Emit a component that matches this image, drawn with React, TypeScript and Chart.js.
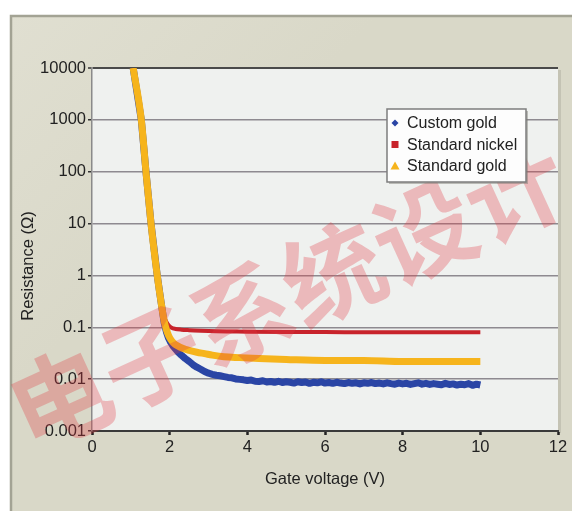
import React, { useEffect, useRef } from "react";
import { Chart, registerables } from "chart.js";

Chart.register(...registerables);

// ---------- data ----------
const legendLabels = ["Custom gold", "Standard nickel", "Standard gold"];
const xTicks = [0, 2, 4, 6, 8, 10, 12];
const yTickValues = [0.001, 0.01, 0.1, 1, 10, 100, 1000, 10000];
const yTickLabels = ["0.001", "0.01", "0.1", "1", "10", "100", "1000", "10000"];
const xTitle = "Gate voltage (V)";
const yTitle = "Resistance (\u03A9)";
const watermark = "电子系统设计";

const goldX = [1.06, 1.27, 1.39, 1.52, 1.68, 1.78, 1.86, 1.92, 1.97, 2.03, 2.1, 2.2, 2.35, 2.5, 2.7, 2.9, 3.1, 3.4, 3.8, 4.3, 5, 6, 7, 8, 9, 10];
const goldY = [10000, 1000, 100, 10, 1, 0.3, 0.13, 0.088, 0.07, 0.058, 0.05, 0.044, 0.039, 0.036, 0.033, 0.031, 0.029, 0.027, 0.026, 0.025, 0.024, 0.023, 0.023, 0.022, 0.022, 0.022];

const nickelX = [1.06, 1.27, 1.39, 1.52, 1.68, 1.78, 1.86, 1.92, 1.98, 2.05, 2.15, 2.3, 2.5, 2.8, 3.2, 3.6, 4, 5, 6, 7, 8, 9, 10];
const nickelY = [10000, 1000, 100, 10, 1, 0.3, 0.16, 0.125, 0.108, 0.098, 0.093, 0.09, 0.088, 0.086, 0.084, 0.083, 0.082, 0.081, 0.081, 0.08, 0.08, 0.08, 0.08];

const customX = [
  1.06, 1.27, 1.39, 1.52, 1.68, 1.78, 1.86, 1.92, 1.97, 2.02, 2.08, 2.15, 2.22, 2.3, 2.4, 2.5, 2.6, 2.7, 2.8, 2.9, 3.0,
  3.1, 3.2, 3.3, 3.4, 3.5, 3.6, 3.7, 3.8, 3.9, 4.0,
  4.1, 4.2, 4.3, 4.4, 4.5, 4.6, 4.7, 4.8, 4.9, 5.0,
  5.1, 5.2, 5.3, 5.4, 5.5, 5.6, 5.7, 5.8, 5.9, 6.0,
  6.1, 6.2, 6.3, 6.4, 6.5, 6.6, 6.7, 6.8, 6.9, 7.0,
  7.1, 7.2, 7.3, 7.4, 7.5, 7.6, 7.7, 7.8, 7.9, 8.0,
  8.1, 8.2, 8.3, 8.4, 8.5, 8.6, 8.7, 8.8, 8.9, 9.0,
  9.1, 9.2, 9.3, 9.4, 9.5, 9.6, 9.7, 9.8, 9.9, 10.0,
];
const customY = [
  10000, 1000, 100, 10, 1, 0.3, 0.12, 0.08, 0.062, 0.052, 0.044, 0.038, 0.033, 0.029, 0.025, 0.022, 0.019, 0.017, 0.0155, 0.014, 0.013,
  0.0124, 0.0119, 0.0116, 0.0112, 0.0108, 0.0106, 0.0101, 0.0099, 0.0097, 0.0094,
  0.0096, 0.0091, 0.009, 0.0093, 0.0088, 0.009, 0.0087, 0.0091, 0.0086, 0.0089,
  0.0087, 0.0084, 0.0089, 0.0086, 0.0088, 0.0083, 0.0087, 0.0085, 0.0089, 0.0084,
  0.0086, 0.0083, 0.0087, 0.0084, 0.0082, 0.0086, 0.0083, 0.0085, 0.0081, 0.0085,
  0.0083, 0.0086, 0.0082, 0.0084, 0.0081, 0.0085, 0.0082, 0.008, 0.0084, 0.0081,
  0.0083, 0.0079, 0.0082, 0.0085, 0.008, 0.0083, 0.0079, 0.0082, 0.008, 0.0078,
  0.0083, 0.0079, 0.0081, 0.0077, 0.008, 0.0078, 0.0082, 0.0076, 0.008, 0.0077,
];

const customColor = "#2a45a5";
const nickelColor = "#c8232b";
const goldColor = "#f6b41c";
const legendColors = [customColor, nickelColor, goldColor];
const legendShapes = ["diamond", "square", "triangle"];

const FONT = '"Liberation Sans", Arial, sans-serif';
const FS = 16.5;

const zip = (xs: number[], ys: number[]) => xs.map((x, i) => ({ x, y: ys[i] }));

export default function App() {
  const ref = useRef<HTMLCanvasElement | null>(null);

  useEffect(() => {
    const canvas = ref.current;
    if (!canvas) return;

    const decorPlugin = {
      id: "decor",
      beforeDraw(chart: any) {
        const { ctx, chartArea: a, width, height } = chart;
        ctx.save();
        ctx.fillStyle = "#ffffff";
        ctx.fillRect(0, 0, width, height);
        // beige panel
        const g = ctx.createLinearGradient(10, 15, 200, 200);
        g.addColorStop(0, "#e0dfd1");
        g.addColorStop(1, "#d9d8c8");
        ctx.fillStyle = g;
        ctx.fillRect(10, 15, width - 10, height - 15);
        ctx.strokeStyle = "#a3a394";
        ctx.lineWidth = 2.5;
        ctx.beginPath();
        ctx.moveTo(11, height);
        ctx.lineTo(11, 16);
        ctx.lineTo(width, 16);
        ctx.stroke();
        // plot area shadow + fill
        ctx.fillStyle = "#c4c3b4";
        ctx.fillRect(a.right, a.top + 2, 3, a.bottom - a.top);
        ctx.fillStyle = "#eff1ef";
        ctx.fillRect(a.left, a.top, a.right - a.left, a.bottom - a.top);
        ctx.restore();
      },
      afterDraw(chart: any) {
        const { ctx, chartArea: a } = chart;
        ctx.save();
        // axis titles
        ctx.fillStyle = "#222";
        ctx.font = `${FS}px ${FONT}`;
        ctx.textAlign = "center";
        ctx.textBaseline = "middle";
        ctx.fillText(xTitle, (a.left + a.right) / 2, 479);
        ctx.save();
        ctx.translate(28, 266);
        ctx.rotate(-Math.PI / 2);
        ctx.fillText(yTitle, 0, 0);
        ctx.restore();

        // watermark
        ctx.save();
        ctx.globalAlpha = 0.3;
        ctx.fillStyle = "#e03842";
        ctx.font = `bold 100px "Noto Sans CJK SC"`;
        ctx.textAlign = "center";
        ctx.textBaseline = "middle";
        const sx = 60, sy = 398, ex = 515, ey = 190;
        const ang = Math.atan2(ey - sy, ex - sx);
        const chars = Array.from(watermark);
        chars.forEach((c, i) => {
          const t = i / (chars.length - 1);
          ctx.save();
          ctx.translate(sx + (ex - sx) * t, sy + (ey - sy) * t);
          ctx.rotate(ang);
          ctx.fillText(c, 0, 0);
          ctx.restore();
        });
        ctx.restore();

        // legend
        const bx = 387, by = 109, bw = 139, bh = 73;
        ctx.fillStyle = "rgba(120,120,110,0.45)";
        ctx.fillRect(bx + 2, by + 2, bw, bh);
        ctx.fillStyle = "#fdfdfd";
        ctx.fillRect(bx, by, bw, bh);
        ctx.strokeStyle = "#7d7d7d";
        ctx.lineWidth = 1.5;
        ctx.strokeRect(bx, by, bw, bh);
        ctx.font = `16px ${FONT}`;
        ctx.textAlign = "left";
        ctx.textBaseline = "middle";
        legendLabels.forEach((lab, i) => {
          const cy = by + 14 + i * 21.5;
          const mx = bx + 8;
          ctx.fillStyle = legendColors[i];
          ctx.beginPath();
          if (legendShapes[i] === "diamond") {
            ctx.moveTo(mx, cy - 3.5); ctx.lineTo(mx + 3.5, cy); ctx.lineTo(mx, cy + 3.5); ctx.lineTo(mx - 3.5, cy);
          } else if (legendShapes[i] === "square") {
            ctx.rect(mx - 3.5, cy - 3.5, 7, 7);
          } else {
            ctx.moveTo(mx, cy - 4.5); ctx.lineTo(mx + 4.5, cy + 3.5); ctx.lineTo(mx - 4.5, cy + 3.5);
          }
          ctx.closePath();
          ctx.fill();
          ctx.fillStyle = "#222";
          ctx.fillText(lab, bx + 20, cy + 1);
        });
        ctx.restore();
      },
    };

    const chart = new Chart(canvas, {
      type: "line",
      data: {
        datasets: [
          {
            label: legendLabels[2],
            data: zip(goldX, goldY),
            borderColor: goldColor,
            borderWidth: 7,
            pointRadius: 0,
            cubicInterpolationMode: "monotone",
            borderJoinStyle: "round",
          },
          {
            label: legendLabels[1],
            data: zip(nickelX, nickelY),
            borderColor: nickelColor,
            borderWidth: 4,
            pointRadius: 0,
            cubicInterpolationMode: "monotone",
            borderJoinStyle: "round",
          },
          {
            label: legendLabels[0],
            data: zip(customX, customY),
            borderColor: customColor,
            borderWidth: 7,
            pointRadius: 0,
            tension: 0,
            borderJoinStyle: "round",
          },
        ],
      },
      options: {
        animation: false,
        responsive: false,
        maintainAspectRatio: false,
        parsing: false as any,
        layout: { padding: { left: 0, top: 68, right: 14, bottom: 0 } },
        plugins: { legend: { display: false }, tooltip: { enabled: false }, title: { display: false } },
        scales: {
          x: {
            type: "linear",
            min: 0,
            max: 12,
            afterFit: (s: any) => { s.height = 80; },
            afterBuildTicks: (s: any) => { s.ticks = xTicks.map((v) => ({ value: v })); },
            ticks: {
              color: "#222",
              font: { family: FONT, size: FS },
              padding: 3,
              autoSkip: false,
              maxRotation: 0,
              callback: (v: any) => String(v),
            },
            grid: { drawOnChartArea: false, drawTicks: true, tickLength: 4, tickColor: "#222", tickWidth: 2.5 },
            border: { color: "#3a3a3a", width: 2 },
          },
          y: {
            type: "logarithmic",
            min: 0.001,
            max: 10000,
            afterFit: (s: any) => { s.width = 92; },
            afterBuildTicks: (s: any) => { s.ticks = yTickValues.map((v) => ({ value: v })); },
            ticks: {
              color: "#222",
              font: { family: FONT, size: FS },
              padding: 2,
              autoSkip: false,
              callback: (v: any) => {
                const i = yTickValues.findIndex((t) => Math.abs(t - v) / t < 1e-6);
                return i >= 0 ? yTickLabels[i] : "";
              },
            },
            grid: {
              color: (c: any) => {
                const v = c.tick?.value;
                if (v === 10000) return "#4a4a4a";
                if (v === 0.001) return "rgba(0,0,0,0)";
                return "#8e8a90";
              },
              lineWidth: (c: any) => (c.tick?.value === 10000 ? 2 : 1.5),
              tickLength: 4,
              tickColor: "#333",
              tickWidth: 1.5,
            },
            border: { color: "#8a8a8a", width: 1.5 },
          },
        },
      },
      plugins: [decorPlugin],
    } as any);

    return () => chart.destroy();
  }, []);

  return (
    <div style={{ position: "absolute", left: 0, top: 0, width: 572, height: 511 }}>
      <canvas ref={ref} width={572} height={511} style={{ display: "block", width: 572, height: 511 }} />
    </div>
  );
}
